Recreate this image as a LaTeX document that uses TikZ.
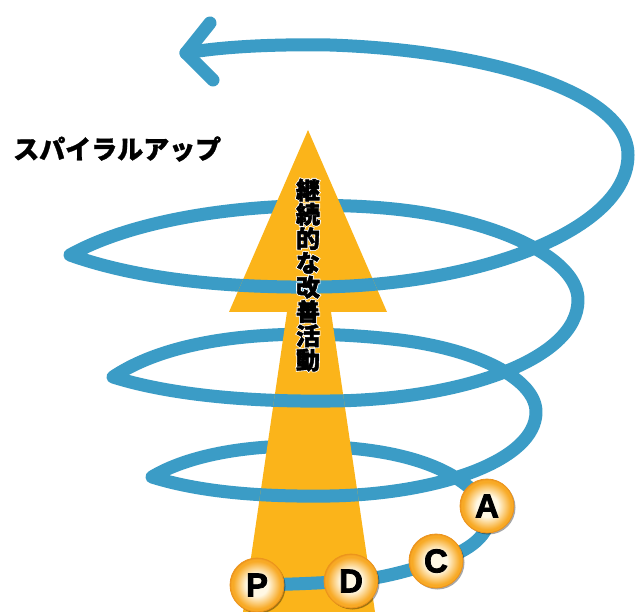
\documentclass[tikz,border=0pt]{standalone}
\usepackage{fontspec}
\newfontfamily\jp{Noto Sans CJK JP}[FakeBold=1.2]
\newfontfamily\jpv{Noto Sans CJK JP}[FakeBold=2]
\newfontfamily\jphalo{Noto Sans CJK JP}[FakeBold=9]
\newfontfamily\lat{Liberation Sans}[FakeBold=2.5]
\usetikzlibrary{shadows}
\definecolor{spiral}{RGB}{59,156,198}
\definecolor{arroworange}{RGB}{251,180,26}
\definecolor{ballin}{RGB}{255,248,228}
\definecolor{ballout}{RGB}{248,170,38}
\definecolor{ballrim}{RGB}{236,148,28}
\pgfdeclareradialshading{ballshade}{\pgfpoint{0bp}{0bp}}{color(0bp)=(ballin); color(10bp)=(ballin); color(22bp)=(ballout); color(23.8bp)=(ballout); color(25bp)=(ballrim); color(50bp)=(ballrim)}
\tikzset{
  blueline/.style={draw=spiral, line width=13pt, line cap=round, line join=round},
  ball/.style={circle, minimum size=54pt, inner sep=0pt, shading=ballshade, draw=ballrim, line width=0.8pt,
    drop shadow={shadow xshift=1.5pt, shadow yshift=-1.5pt, opacity=0.35, fill=black},
    font=\lat\bfseries\fontsize{33}{33}\selectfont},
  halo/.style={inner sep=0pt, text=white, font=\jphalo\bfseries\fontsize{24}{24}\selectfont},
  vtext/.style={inner sep=0pt, text=black, font=\jpv\bfseries\fontsize{24}{24}\selectfont},
}
\begin{document}
\begin{tikzpicture}[x=1pt, y=-1pt]
\useasboundingbox (0,0) rectangle (640,612);
\fill[white] (0,0) rectangle (640,612);
% full spiral, drawn from the P end upwards
\draw[blueline] (257,585) .. controls (300,584) and (320,583) .. (351,581)
  .. controls (385,578) and (410,570) .. (436,562)
  .. controls (462,553) and (490,540) .. (490,512)
  .. controls (465,468) and (400,446) .. (300,446)
  .. controls (230,446) and (180,460) .. (152,477)
  .. controls (200,492) and (260,497) .. (330,496)
  .. controls (440,494) and (536,460) .. (536,412)
  .. controls (536,380) and (480,350) .. (400,340)
  .. controls (300,328) and (180,332) .. (113,377)
  .. controls (170,395) and (250,402) .. (330,401)
  .. controls (460,400) and (578,360) .. (578,300)
  .. controls (578,265) and (520,230) .. (430,214)
  .. controls (330,196) and (160,205) .. (70,255)
  .. controls (140,280) and (230,288) .. (320,287)
  .. controls (480,285) and (628,230) .. (628,155)
  .. controls (628,90) and (480,50) .. (330,45)
  .. controls (270,44) and (220,47) .. (186,53);
\draw[blueline] (210,23) -- (186,53) -- (213,80);
% orange arrow
\fill[arroworange] (308,130) -- (387,312) -- (331,312) -- (375,612) -- (243,612) -- (287,312) -- (229,312) -- cycle;
% parts of the spiral that pass in front of the arrow
\begin{scope}
\clip (308,130) -- (387,312) -- (331,312) -- (375,612) -- (243,612) -- (287,312) -- (229,312) -- cycle;
\draw[blueline] (70,255) .. controls (140,280) and (230,288) .. (320,287) .. controls (480,285) and (628,230) .. (628,155);
\draw[blueline] (113,377) .. controls (170,395) and (250,402) .. (330,401) .. controls (460,400) and (578,360) .. (578,300);
\draw[blueline] (152,477) .. controls (200,492) and (260,497) .. (330,496) .. controls (440,494) and (536,460) .. (536,412);
\draw[blueline] (257,585) .. controls (300,584) and (320,583) .. (351,581) .. controls (385,578) and (410,570) .. (436,562);
\end{scope}
% vertical text
\foreach \c [count=\i from 0] in {継,続,的,な,改,善,活,動}
  \node[halo] (h\i) at (308,190+24.3*\i) {\c};
\foreach \c [count=\i from 0] in {継,続,的,な,改,善,活,動}
  \node[vtext] (t\i) at (308,190+24.3*\i) {\c};
% PDCA balls
\node[ball] (P) at (257,585) {P};
\node[ball] (D) at (351,581) {D};
\node[ball] (C) at (436,561) {C};
\node[ball] (A) at (487,506) {A};
% title
\node[anchor=west, inner sep=0pt, font=\jp\bfseries\fontsize{26}{26}\selectfont] (title) at (13,149) {スパイラルアップ};
\end{tikzpicture}
\end{document}
